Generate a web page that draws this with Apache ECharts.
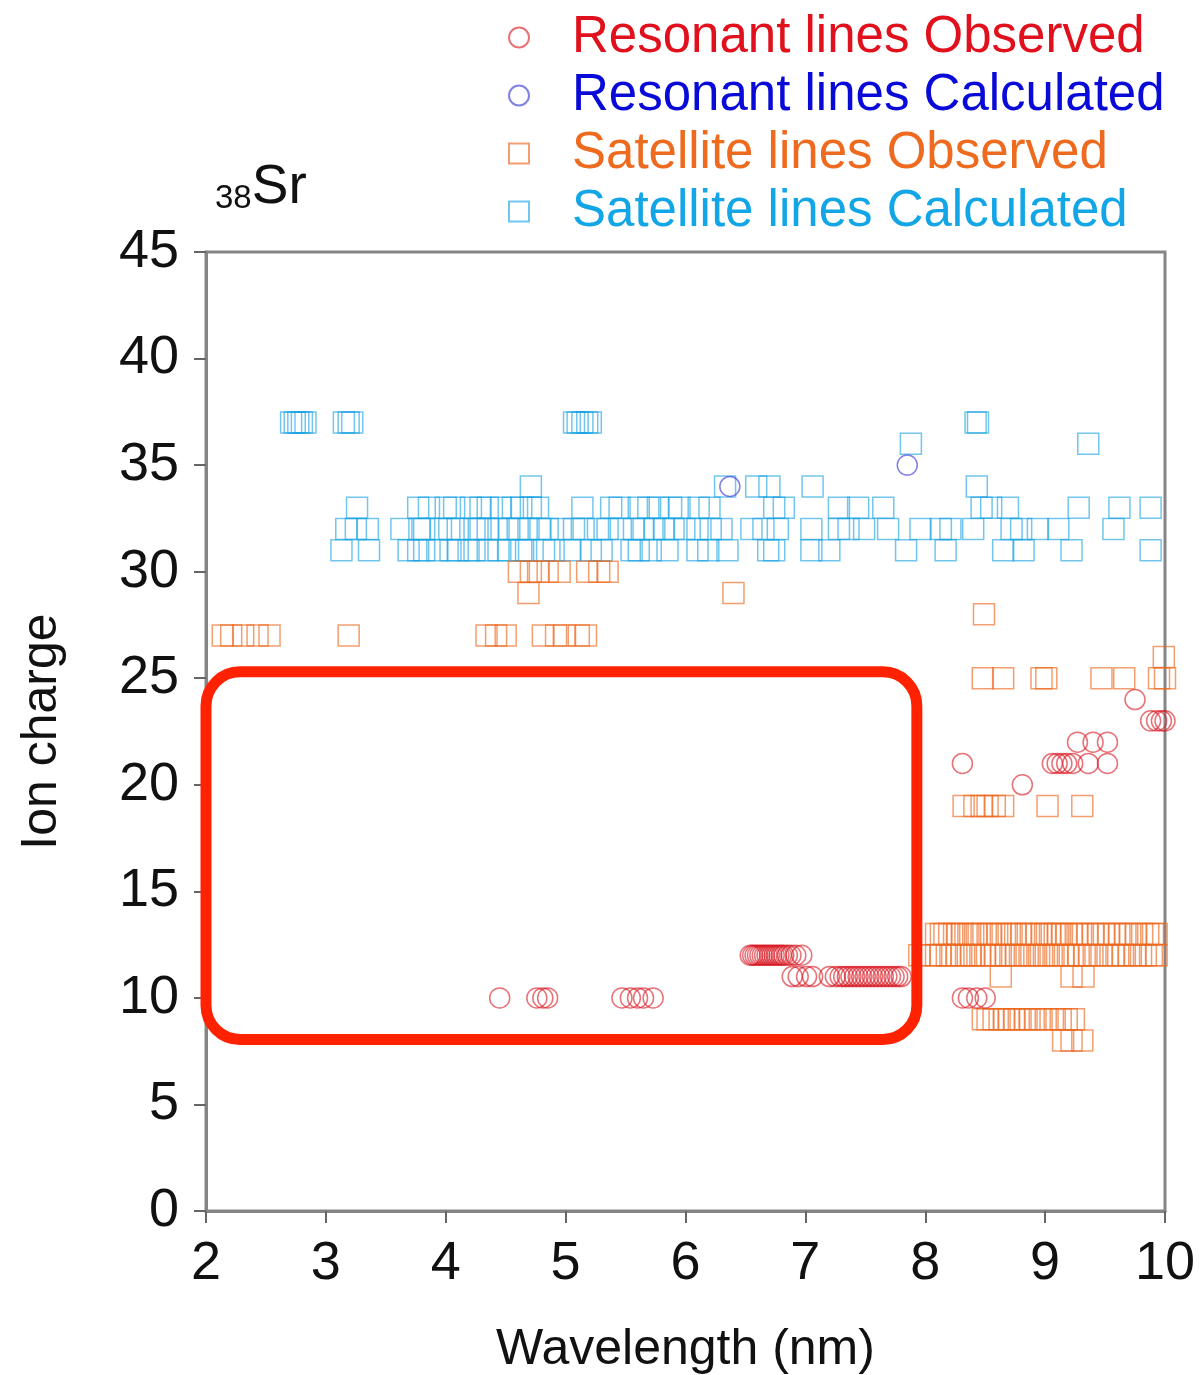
<!DOCTYPE html>
<html>
<head>
<meta charset="utf-8">
<style>
  html, body { margin: 0; padding: 0; background: #fff; }
  #chart { width: 1201px; height: 1375px; }
</style>
<script src="https://cdn.jsdelivr.net/npm/echarts@6/dist/echarts.min.js"></script>
</head>
<body>
<div id="chart"></div>
<script>
// wavelength (nm), ion charge
var resonantObserved = [
  [4.45, 10], [4.76, 10], [4.81, 10], [4.85, 10],
  [5.47, 10], [5.54, 10], [5.60, 10], [5.65, 10], [5.73, 10],
  [6.54, 12], [6.56, 12], [6.58, 12], [6.60, 12], [6.62, 12], [6.64, 12], [6.66, 12],
  [6.68, 12], [6.70, 12], [6.72, 12], [6.74, 12], [6.76, 12], [6.78, 12], [6.80, 12],
  [6.82, 12], [6.85, 12], [6.88, 12], [6.92, 12], [6.97, 12],
  [6.89, 11], [6.94, 11], [7.01, 11], [7.06, 11], [7.20, 11], [7.25, 11], [7.29, 11],
  [7.32, 11], [7.35, 11], [7.38, 11], [7.41, 11], [7.44, 11], [7.47, 11], [7.50, 11],
  [7.53, 11], [7.56, 11], [7.59, 11], [7.62, 11], [7.65, 11], [7.68, 11], [7.71, 11],
  [7.74, 11], [7.77, 11], [7.80, 11],
  [8.31, 10], [8.36, 10], [8.43, 10], [8.50, 10],
  [8.31, 21], [8.81, 20],
  [9.06, 21], [9.10, 21], [9.14, 21], [9.18, 21], [9.23, 21], [9.36, 21], [9.52, 21],
  [9.27, 22], [9.40, 22], [9.52, 22],
  [9.75, 24], [9.88, 23], [9.93, 23], [9.97, 23], [10.0, 23]
];

var resonantCalculated = [
  [6.37, 34], [7.85, 35]
];

var satelliteObserved = [
  [2.14, 27], [2.21, 27], [2.31, 27], [2.43, 27], [2.53, 27], [3.19, 27],
  [4.34, 27], [4.42, 27], [4.50, 27], [4.81, 27], [4.92, 27], [4.99, 27], [5.11, 27], [5.17, 27],
  [4.61, 30], [4.71, 30], [4.77, 30], [4.85, 30], [4.95, 30], [5.18, 30], [5.28, 30], [5.35, 30],
  [4.69, 29], [6.40, 29],
  [8.49, 28], [9.99, 26],
  [8.48, 25], [8.65, 25], [8.97, 25], [9.01, 25], [9.47, 25], [9.66, 25], [9.95, 25], [10.0, 25], [10.05, 25],
  [8.32, 19], [8.41, 19], [8.47, 19], [8.52, 19], [8.58, 19], [8.65, 19], [9.02, 19], [9.31, 19],
  [8.09, 13], [8.13, 13], [8.16, 13], [8.20, 13], [8.24, 13], [8.27, 13], [8.31, 13], [8.36, 13],
  [8.40, 13], [8.43, 13], [8.47, 13], [8.52, 13], [8.55, 13], [8.60, 13], [8.63, 13], [8.68, 13],
  [8.72, 13], [8.75, 13], [8.80, 13], [8.84, 13], [8.88, 13], [8.93, 13], [8.97, 13], [9.00, 13],
  [9.04, 13], [9.08, 13], [9.11, 13], [9.14, 13], [9.18, 13], [9.22, 13], [9.27, 13], [9.30, 13],
  [9.35, 13], [9.40, 13], [9.44, 13], [9.49, 13], [9.53, 13], [9.58, 13], [9.62, 13], [9.67, 13],
  [9.71, 13], [9.76, 13], [9.81, 13], [9.86, 13], [9.90, 13], [9.93, 13],
  [7.95, 12], [8.05, 12], [8.09, 12], [8.13, 12], [8.18, 12], [8.21, 12], [8.26, 12], [8.30, 12],
  [8.34, 12], [8.38, 12], [8.41, 12], [8.46, 12], [8.50, 12], [8.55, 12], [8.58, 12], [8.63, 12],
  [8.67, 12], [8.71, 12], [8.76, 12], [8.79, 12], [8.83, 12], [8.87, 12], [8.91, 12], [8.95, 12],
  [8.99, 12], [9.03, 12], [9.07, 12], [9.10, 12], [9.15, 12], [9.19, 12], [9.23, 12], [9.28, 12],
  [9.33, 12], [9.37, 12], [9.42, 12], [9.47, 12], [9.52, 12], [9.57, 12], [9.61, 12], [9.65, 12],
  [9.70, 12], [9.75, 12], [9.80, 12], [9.84, 12], [9.89, 12], [9.93, 12],
  [8.63, 11], [9.22, 11], [9.32, 11],
  [8.48, 9], [8.52, 9], [8.57, 9], [8.62, 9], [8.66, 9], [8.70, 9], [8.74, 9], [8.78, 9],
  [8.83, 9], [8.87, 9], [8.92, 9], [8.97, 9], [9.02, 9], [9.08, 9], [9.13, 9], [9.18, 9], [9.24, 9],
  [9.15, 8], [9.22, 8], [9.31, 8]
];

var satelliteCalculated = [
  [2.71, 37], [2.74, 37], [2.77, 37], [2.80, 37], [2.83, 37], [3.15, 37], [3.19, 37], [3.22, 37],
  [5.07, 37], [5.10, 37], [5.14, 37], [5.18, 37], [5.21, 37], [8.42, 37], [8.44, 37],
  [7.88, 36], [9.36, 36],
  [4.71, 34], [6.33, 34], [6.59, 34], [6.70, 34], [7.06, 34], [8.43, 34],
  [3.26, 33], [3.77, 33], [3.86, 33], [4.00, 33], [4.07, 33], [4.21, 33], [4.29, 33], [4.35, 33],
  [4.46, 33], [4.56, 33], [4.63, 33], [4.71, 33], [4.77, 33], [5.14, 33], [5.38, 33], [5.45, 33],
  [5.61, 33], [5.69, 33], [5.77, 33], [5.88, 33], [5.95, 33], [6.11, 33], [6.20, 33], [6.74, 33],
  [6.82, 33], [7.28, 33], [7.44, 33], [7.65, 33], [8.47, 33], [8.55, 33], [8.69, 33], [9.28, 33],
  [9.62, 33], [9.88, 33],
  [3.17, 32], [3.25, 32], [3.35, 32], [3.63, 32], [3.78, 32], [3.82, 32], [3.96, 32], [4.03, 32],
  [4.10, 32], [4.24, 32], [4.29, 32], [4.35, 32], [4.44, 32], [4.53, 32], [4.60, 32], [4.69, 32],
  [4.79, 32], [4.85, 32], [4.96, 32], [5.07, 32], [5.15, 32], [5.27, 32], [5.35, 32], [5.46, 32],
  [5.57, 32], [5.65, 32], [5.74, 32], [5.82, 32], [5.90, 32], [5.99, 32], [6.10, 32], [6.21, 32],
  [6.30, 32], [6.55, 32], [6.65, 32], [6.77, 32], [7.05, 32], [7.28, 32], [7.36, 32], [7.49, 32],
  [7.69, 32], [7.96, 32], [8.13, 32], [8.21, 32], [8.40, 32], [8.72, 32], [8.80, 32], [8.94, 32],
  [9.11, 32], [9.57, 32],
  [3.13, 31], [3.36, 31], [3.69, 31], [3.77, 31], [3.82, 31], [3.93, 31], [4.04, 31], [4.10, 31],
  [4.19, 31], [4.24, 31], [4.35, 31], [4.44, 31], [4.52, 31], [4.63, 31], [4.67, 31], [4.82, 31],
  [4.90, 31], [5.04, 31], [5.21, 31], [5.30, 31], [5.55, 31], [5.61, 31], [5.71, 31], [5.85, 31],
  [6.10, 31], [6.19, 31], [6.35, 31], [6.69, 31], [6.74, 31], [7.05, 31], [7.20, 31], [7.84, 31],
  [8.17, 31], [8.65, 31], [8.82, 31], [9.22, 31], [9.88, 31]
];

var xTicks = { min: 2, max: 10, step: 1 };
var yTicks = { min: 0, max: 45, step: 5 };

var font = '"Liberation Sans", Arial, Helvetica, sans-serif';
var chart = echarts.init(document.getElementById('chart'));

function hollow(color) {
  return { color: 'rgba(255,255,255,0)', borderColor: color, borderWidth: 1.5 };
}

var option = {
  animation: false,
  backgroundColor: '#fff',
  textStyle: { fontFamily: font },
  title: {
    text: '{sub|38}{main|Sr}',
    left: 215,
    top: 157,
    padding: 0,
    textStyle: {
      fontWeight: 'normal',
      rich: {
        sub: { fontSize: 33, fontFamily: font, fontWeight: 'normal', color: '#111', verticalAlign: 'bottom', lineHeight: 58 },
        main: { fontSize: 55, fontFamily: font, fontWeight: 'normal', color: '#111', verticalAlign: 'bottom', lineHeight: 58 }
      }
    }
  },
  legend: {
    orient: 'vertical',
    left: 508,
    top: 12,
    padding: 0,
    itemWidth: 20,
    itemHeight: 20,
    itemGap: 7,
    textStyle: { fontSize: 51, lineHeight: 50, fontFamily: font, padding: [0, 0, 0, 38] },
    data: [
      { name: 'Resonant lines Observed', textStyle: { color: '#e0101c' } },
      { name: 'Resonant lines Calculated', textStyle: { color: '#0a0ad8' } },
      { name: 'Satellite lines Observed', textStyle: { color: '#ee6a1e' } },
      { name: 'Satellite lines Calculated', textStyle: { color: '#12a6e6' } }
    ]
  },
  grid: {
    left: 206, right: 36, top: 252, bottom: 164,
    outerBoundsMode: 'none',
    show: true, borderColor: '#858585', borderWidth: 3
  },
  xAxis: {
    type: 'value',
    min: xTicks.min, max: xTicks.max, interval: xTicks.step,
    name: 'Wavelength (nm)',
    nameLocation: 'middle',
    nameGap: 114,
    nameTextStyle: { fontSize: 50, color: '#111', fontFamily: font },
    axisLine: { show: true, lineStyle: { color: '#858585', width: 3 } },
    axisTick: { show: true, inside: false, length: 12, lineStyle: { color: '#666', width: 2 } },
    axisLabel: { fontSize: 54, color: '#111', margin: 26, fontFamily: font },
    splitLine: { show: false }
  },
  yAxis: {
    type: 'value',
    min: yTicks.min, max: yTicks.max, interval: yTicks.step,
    name: 'Ion charge',
    nameLocation: 'middle',
    nameGap: 139,
    nameRotate: 90,
    nameTextStyle: { fontSize: 50, color: '#111', fontFamily: font },
    axisLine: { show: true, lineStyle: { color: '#858585', width: 3 } },
    axisTick: { show: true, inside: false, length: 12, lineStyle: { color: '#666', width: 2 } },
    axisLabel: { fontSize: 54, color: '#111', margin: 27, fontFamily: font },
    splitLine: { show: false }
  },
  series: [
    {
      name: 'Satellite lines Calculated',
      type: 'scatter',
      symbol: 'rect',
      symbolSize: 21,
      itemStyle: hollow('rgba(20,160,225,0.75)'),
      data: satelliteCalculated
    },
    {
      name: 'Satellite lines Observed',
      type: 'scatter',
      symbol: 'rect',
      symbolSize: 21,
      itemStyle: hollow('rgba(236,104,30,0.8)'),
      data: satelliteObserved
    },
    {
      name: 'Resonant lines Observed',
      type: 'scatter',
      symbol: 'circle',
      symbolSize: 20,
      itemStyle: hollow('rgba(215,20,30,0.75)'),
      data: resonantObserved
    },
    {
      name: 'Resonant lines Calculated',
      type: 'scatter',
      symbol: 'circle',
      symbolSize: 20,
      itemStyle: hollow('rgba(70,70,220,0.85)'),
      data: resonantCalculated
    }
  ]
};

chart.setOption(option);

// highlight box drawn over the plot, placed from data coordinates
var p1 = chart.convertToPixel({ gridIndex: 0 }, [2.0, 25.3]);
var p2 = chart.convertToPixel({ gridIndex: 0 }, [7.93, 8.05]);
chart.setOption({
  graphic: [{
    type: 'rect',
    z: 100,
    shape: { x: p1[0], y: p1[1], width: p2[0] - p1[0], height: p2[1] - p1[1], r: 34 },
    style: { fill: 'none', stroke: '#ff2200', lineWidth: 11 }
  }]
});
</script>
</body>
</html>
